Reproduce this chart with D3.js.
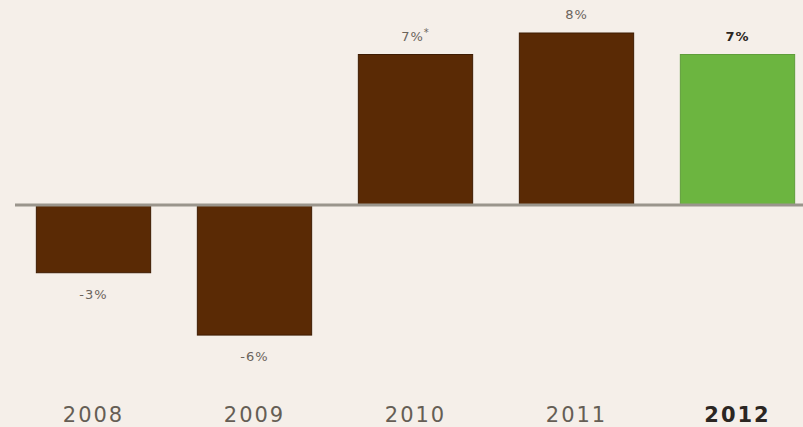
<!DOCTYPE html>
<meta charset="utf-8">
<html>
  <head>
    <style>
      body { margin: 0; background: #f5efe9; }
      text.value { font-family: "DejaVu Sans", sans-serif; font-size: 13px; fill: #6b645c; letter-spacing: 1px; }
      text.year { font-family: "DejaVu Sans", sans-serif; font-size: 21px; fill: #655e55; letter-spacing: 2px; }
      text.current { fill: #2b2622; font-weight: bold; }
    </style>
    <script src="https://cdn.jsdelivr.net/npm/d3@7"></script>
  </head>
  <body>
    <div id="chart"></div>
    <script>
      // growth per year, % (bar heights, labels as printed)
      var years = ["2008", "2009", "2010", "2011", "2012"];
      var growth = [-3.15, -6.05, 7, 8, 7];
      var labels = ["-3%", "-6%", "7%", "8%", "7%"];
      var notes = ["", "", "*", "", ""];

      var width = 803, height = 427;
      var brown = "#5a2a05", green = "#6cb540";

      var svg = d3.select("#chart").append("svg")
          .attr("width", width)
          .attr("height", height)
          .style("display", "block");

      svg.append("rect")
          .attr("width", width).attr("height", height)
          .attr("fill", "#f5efe9");

      var x = d3.scaleBand()
          .domain(years)
          .range([13, 818])
          .paddingInner(0.29)
          .paddingOuter(0.145);

      var y = d3.scaleLinear()
          .domain([-6, 8])
          .range([334, 33]);

      var data = years.map(function(d, i) {
        return { year: d, v: growth[i], label: labels[i], note: notes[i], last: i == years.length - 1 };
      });

      // bars
      svg.selectAll(".bar")
          .data(data)
          .enter().append("rect")
          .attr("class", "bar")
          .attr("x", function(d) { return x(d.year); })
          .attr("y", function(d) { return y(Math.max(0, d.v)); })
          .attr("width", x.bandwidth())
          .attr("height", function(d) { return Math.abs(y(d.v) - y(0)); })
          .attr("fill", function(d) { return d.last ? green : brown; })
          .attr("stroke", function(d) { return d.last ? "#5f9e3a" : "#3e1c03"; })
          .attr("stroke-width", 1);

      // zero line
      svg.append("line")
          .attr("x1", 15).attr("x2", width)
          .attr("y1", y(0)).attr("y2", y(0))
          .attr("stroke", "#9a958c")
          .attr("stroke-width", 3);

      // value labels
      var val = svg.selectAll(".value")
          .data(data)
          .enter().append("text")
          .attr("class", function(d) { return d.last ? "value current" : "value"; })
          .attr("x", function(d) { return x(d.year) + x.bandwidth() / 2; })
          .attr("y", function(d) { return d.v >= 0 ? y(d.v) - 14 : y(d.v) + 26; })
          .attr("text-anchor", "middle")
          .text(function(d) { return d.label; });
      val.filter(function(d) { return d.note; })
          .append("tspan")
          .attr("dy", -5)
          .style("font-size", "10px")
          .text(function(d) { return d.note; });

      // year axis
      svg.selectAll(".year")
          .data(data)
          .enter().append("text")
          .attr("class", function(d) { return d.last ? "year current" : "year"; })
          .attr("x", function(d) { return x(d.year) + x.bandwidth() / 2; })
          .attr("y", 422)
          .attr("text-anchor", "middle")
          .text(function(d) { return d.year; });
    </script>
  </body>
</html>
